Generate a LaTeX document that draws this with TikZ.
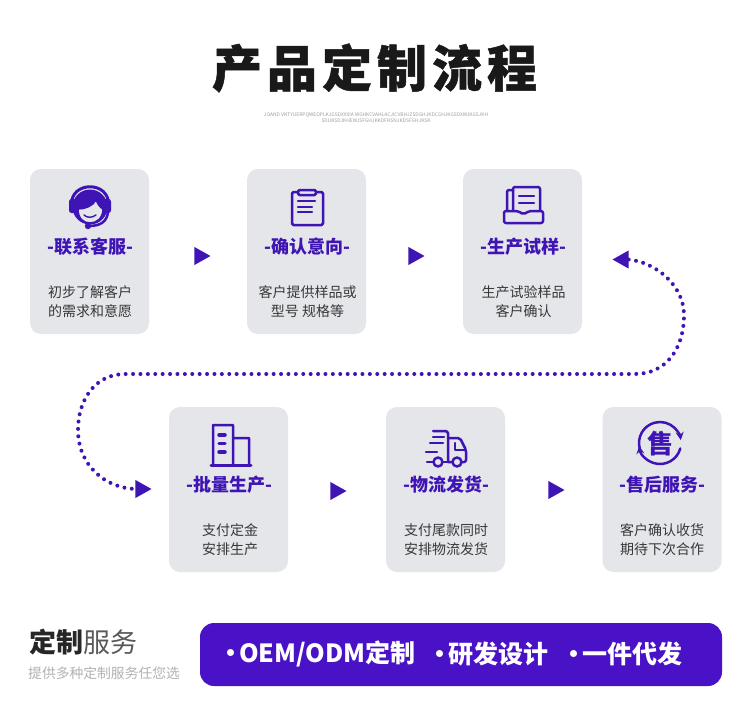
\documentclass[tikz,border=0pt]{standalone}
\usepackage{fontspec}
\setmainfont{Noto Sans CJK SC}
\usetikzlibrary{shapes.geometric}
\definecolor{brandpurple}{HTML}{3F14B4}
\definecolor{cardgray}{HTML}{E4E6EA}
\definecolor{bandpurple}{HTML}{4A12C6}
\begin{document}
\begin{tikzpicture}[
  x=1pt, y=-1pt,
  >=stealth,
  cardbox/.style={fill=cardgray, rounded corners=11pt, minimum width=119pt, minimum height=165pt, inner sep=0pt},
  headtext/.style={text=brandpurple, font=\bfseries\fontsize{18}{20}\selectfont, inner sep=0pt},
  desctext/.style={text=black!78, align=center, font=\fontsize{14}{19.5}\selectfont, inner sep=0pt},
  tipnode/.style={isosceles triangle, isosceles triangle stretches, fill=brandpurple, minimum height=16pt, minimum width=18pt, inner sep=0pt},
  dotline/.style={brandpurple, line width=4pt, line cap=round, dash pattern=on 0pt off 7.4pt},
  iconline/.style={draw=brandpurple, line width=2.5pt, line join=round, line cap=round},
  bandtext/.style={text=white, anchor=west, inner sep=0pt, font=\bfseries\fontsize{25}{28}\selectfont}
]
\useasboundingbox (0,0) rectangle (750,720);
\fill[white] (0,0) rectangle (750,720);

% Title
\node[text=black!90, inner sep=0pt, font=\bfseries\fontsize{50}{60}\selectfont\addfontfeature{LetterSpace=10,FakeBold=1}] (title) at (374.5,68) {产品定制流程};
\node[text=black!38, inner sep=0pt, align=center, font=\fontsize{4.9}{6}\selectfont] (subtitle) at (376,118)
  {JOAND VNTYUERPQWEOPLKJGSDXXXIA WGHKCVAHLACJICVBHJZSDGHJKDCGHJKGSDXWJKGSJKH\\SDUKSDJKHEWJSFGHJKKDFHSNJKDSFGHJKSK};

% Cards, first row
\node[cardbox] (contact) at (89.5,251.5) {};
\node[cardbox] (confirm) at (306.5,251.5) {};
\node[cardbox] (sample)  at (522.5,251.5) {};
\node[headtext] (contacthead) at (90,247) {-联系客服-};
\node[headtext] (confirmhead) at (307,247) {-确认意向-};
\node[headtext] (samplehead)  at (523.5,247) {-生产试样-};
\node[desctext] (contactdesc) at (90,301.5) {初步了解客户\\的需求和意愿};
\node[desctext] (confirmdesc) at (307.5,301.5) {客户提供样品或\\型号 规格等};
\node[desctext] (sampledesc)  at (523.5,301.5) {生产试验样品\\客户确认};

% Cards, second row
\node[cardbox] (batch)    at (228.5,489.5) {};
\node[cardbox] (shipping) at (445.5,489.5) {};
\node[cardbox] (service)  at (662,489.5) {};
\node[headtext] (batchhead)    at (229.5,485) {-批量生产-};
\node[headtext] (shippinghead) at (446,485) {-物流发货-};
\node[headtext] (servicehead)  at (662.5,485) {-售后服务-};
\node[desctext] (batchdesc)    at (230,539.5) {支付定金\\安排生产};
\node[desctext] (shippingdesc) at (446,539.5) {支付尾款同时\\安排物流发货};
\node[desctext] (servicedesc)  at (662,539.5) {客户确认收货\\期待下次合作};

% Triangles
\node[tipnode, anchor=apex] (tipA) at (211,256) {};
\node[tipnode, anchor=apex] (tipB) at (425,256) {};
\node[tipnode, anchor=apex, shape border rotate=180] (tipBack) at (612,259.5) {};
\node[tipnode, anchor=apex] (tipIn) at (152,489) {};
\node[tipnode, anchor=apex] (tipC) at (347,491) {};
\node[tipnode, anchor=apex] (tipD) at (565,490) {};

% Dotted return line
\coordinate (bendright) at (684,315);
\coordinate (bendleft) at (78,430);
\draw[dotline] (tipBack.lower side) .. controls (655,262) and (684,285) .. (bendright)
  .. controls (684,350) and (665,374) .. (635,374) -- (125,374)
  .. controls (95,374) and (78,400) .. (bendleft)
  .. controls (78,465) and (105,488) .. (tipIn.lower side);

% Icon: headset
\fill[brandpurple] (90,207) circle (17.5);
\draw[iconline, fill=cardgray, line width=1.5pt] (78,209) .. controls (85,209) and (93,206) .. (96,200)
  .. controls (98,205) and (101,208) .. (103,209) .. controls (103,218) and (97,223) .. (90,223)
  .. controls (83,223) and (78,218) .. (78,209);
\draw[iconline, line width=1.4pt] (84,215) .. controls (87,218) and (92,218) .. (96,215);
\draw[iconline, line width=3pt] (71.5,204) .. controls (71.5,181) and (108.5,181) .. (108.5,204);
\fill[brandpurple, rounded corners=2.5pt] (69,199) rectangle (76,213);
\fill[brandpurple, rounded corners=2.5pt] (104,199) rectangle (111,213);
\draw[iconline] (108,212) .. controls (107,222) and (100,226) .. (89,226);
\fill[brandpurple] (88,226) circle (3.2);

% Icon: clipboard
\draw[iconline, rounded corners=1.5pt] (298,192) -- (292,192) -- (292,225) -- (323,225) -- (323,192) -- (316,192);
\draw[iconline, rounded corners=1.5pt] (298,190) rectangle (316,195);
\draw[iconline] (298,201) -- (315,201);
\draw[iconline] (298,207) -- (312,207);
\draw[iconline] (298,212) -- (312,212);

% Icon: tray
\draw[iconline, rounded corners=2pt] (504,211) -- (518,211) -- (523.5,214.5) -- (529,211) -- (543,211) -- (543,223) -- (504,223) -- cycle;
\draw[iconline, rounded corners=2pt] (513,211) -- (513,187) -- (540,187) -- (540,211);
\draw[iconline, rounded corners=2pt] (513,190) -- (507,190) -- (507,211);
\draw[iconline] (519,196) -- (534,196);
\draw[iconline] (519,203) -- (534,203);

% Icon: buildings
\draw[iconline, rounded corners=0.5pt] (213,465) -- (213,425) -- (233,425) -- (233,465);
\draw[iconline, rounded corners=0.5pt] (233,438) -- (249,438) -- (249,465);
\draw[iconline, line width=3pt] (211,465) -- (251,465);
\draw[iconline, line width=3.5pt] (219,435) -- (225,435);
\draw[iconline, line width=3.5pt] (219,443.5) -- (225,443.5);
\draw[iconline, line width=3.5pt] (219,452) -- (225,452);

% Icon: truck
\draw[iconline] (433,431) -- (446,431) -- (448,433) -- (448,462) -- (452.5,462);
\draw[iconline] (443,462) -- (448,462);
\draw[iconline, rounded corners=2pt] (448,438) -- (460,438) -- (466,450) -- (466,462) -- (462,462);
\draw[iconline] (455,443) -- (455,450) -- (465,450);
\draw[iconline] (433,437) -- (444,437);
\draw[iconline] (430,443) -- (443,443);
\draw[iconline] (426,452) -- (437,452);
\draw[iconline] (427,462) -- (433,462);
\draw[iconline] (438,462) circle (4.5);
\draw[iconline] (457,462) circle (4.5);

% Icon: after-sales
\node[text=brandpurple, inner sep=0pt, font=\bfseries\fontsize{26}{30}\selectfont] (saleglyph) at (660,444) {售};
\draw[iconline, ->] (660,443) ++(-195:21) arc (-195:-8:21);
\draw[iconline, ->] (660,443) ++(15:21) arc (15:172:21);

% Bottom band
\node[anchor=west, text=black!85, inner sep=0pt, font=\fontsize{27}{30}\selectfont] (bandtitle) at (29,642) {\textbf{定制}\textcolor{black!65}{服务}};
\node[anchor=west, text=black!30, inner sep=0pt, font=\fontsize{13.8}{16}\selectfont] (bandnote) at (28,673) {提供多种定制服务任您选};
\node[fill=bandpurple, rounded corners=14pt, minimum width=522pt, minimum height=63pt, inner sep=0pt] (band) at (461,654.5) {};
\node[bandtext] (bandoem) at (218,654) {·\kern-4pt OEM/ODM定制};
\node[bandtext] (bandrd) at (427,654) {·\kern-4pt 研发设计};
\node[bandtext] (bandone) at (561,654) {·\kern-4pt 一件代发};
\end{tikzpicture}
\end{document}
